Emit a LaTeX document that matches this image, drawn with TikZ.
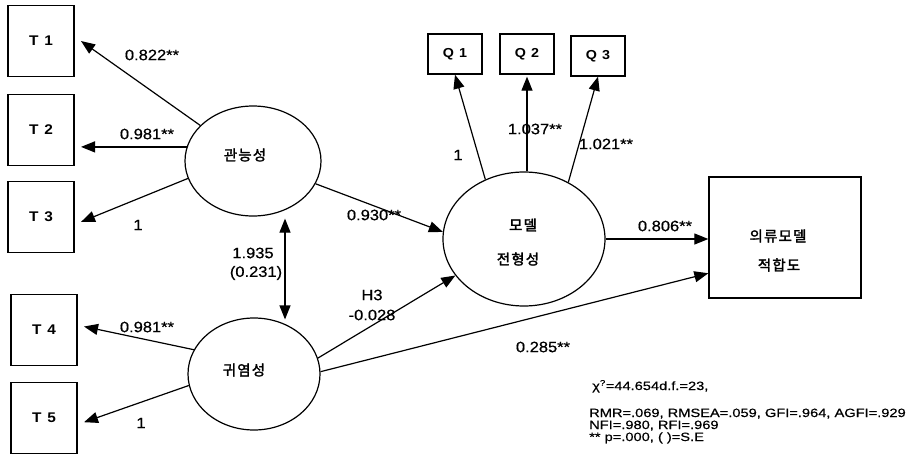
\documentclass[tikz,border=0pt]{standalone}
\usepackage{fontspec}
\setmainfont{Liberation Sans}[FakeStretch=1.1]
\newfontfamily\lblfont{Liberation Sans}[FakeStretch=1.1,FakeBold=0.6]
\newfontfamily\kr{Noto Sans CJK KR}[FakeBold=2,LetterSpace=8]
\newfontfamily\stat{Liberation Sans}[FakeStretch=1.22,FakeBold=0.5]
\usetikzlibrary{arrows.meta,calc,shapes.geometric}
\tikzset{
  obs/.style={draw, line width=1.3pt, minimum width=66pt, minimum height=71pt, inner sep=0pt, outer xsep=7pt, font=\bfseries\fontsize{14}{14}\selectfont},
  qbox/.style={draw, line width=1.3pt, minimum width=54pt, minimum height=40pt, inner sep=0pt, font=\bfseries\fontsize{13}{13}\selectfont},
  lat/.style={ellipse, draw, line width=1.2pt, inner sep=0pt},
  krtxt/.style={inner sep=0pt, font=\kr\fontsize{14.5}{14.5}\selectfont},
  lbl/.style={inner sep=0pt, font=\lblfont\fontsize{15}{15}\selectfont},
  stt/.style={inner sep=0pt, anchor=base west, font=\stat\fontsize{12}{12}\selectfont},
  arr/.style={-{Triangle[length=14pt,width=11pt]}, line width=1.2pt},
  darr/.style={{Triangle[length=14pt,width=11pt]}-{Triangle[length=14pt,width=11pt]}, line width=1.2pt}
}
\begin{document}
\begin{tikzpicture}[x=1pt,y=-1pt]
\useasboundingbox (0,0) rectangle (916,453);
% observed boxes
\node[obs] (T1) at (41,41) {T\hspace{6pt}1};
\node[obs] (T2) at (41,130) {T\hspace{6pt}2};
\node[obs] (T3) at (41,217) {T\hspace{6pt}3};
\node[obs] (T4) at (44,330) {T\hspace{6pt}4};
\node[obs] (T5) at (44,418) {T\hspace{6pt}5};
\node[qbox] (Q1) at (455,54) {Q\hspace{5pt}1};
\node[qbox] (Q2) at (527,54) {Q\hspace{5pt}2};
\node[qbox] (Q3) at (598,56) {Q\hspace{5pt}3};
\node[draw, line width=1.3pt, minimum width=152pt, minimum height=121pt, inner sep=0pt] (fit) at (785,237.5) {};
\node[krtxt] (fit1) at (778,236) {의류모델};
\node[krtxt] (fit2) at (779,265) {적합도};
% latent
\node[lat, minimum width=136pt, minimum height=110pt] (kw) at (253,161) {};
\node[krtxt] (kwt) at (245,155) {관능성};
\node[lat, minimum width=132pt, minimum height=112pt] (gy) at (254,374) {};
\node[krtxt] (gyt) at (244,370) {귀염성};
\node[lat, minimum width=162pt, minimum height=134pt] (md) at (524,239) {};
\node[krtxt] (mdt1) at (523,225) {모델};
\node[krtxt] (mdt2) at (518,259) {전형성};
% connectors
\draw[arr] (kw.146) -- (T1.east);
\draw[arr] (kw.168) -- (kw.168 -| T2.east);
\draw[arr] (kw.195) -- (T3.-7);
\draw[arr] (gy.158) -- (T4.5);
\draw[arr] (gy.190) -- (T5.-6);
\draw[darr] ([xshift=32pt,yshift=-2pt]kw.south) -- ([xshift=31pt,yshift=-2pt]gy.north);
\draw[arr] (kw.-20) -- (md.175);
\draw[arr] (gy.14) -- (md.208);
\draw[arr] (gy.2) -- (fit.205);
\draw[arr] (md.east) -- (md.east -| fit.west);
\draw[arr] (md.123) -- (Q1.south);
\draw[arr] (Q2.south |- md.north) -- ([yshift=-2pt]Q2.south);
\draw[arr] (md.52) -- (Q3.south);
% labels
\node[lbl] (l1) at (152,55) {0.822**};
\node[lbl] (l2) at (147,134) {0.981**};
\node[lbl] (l3) at (138,225) {1};
\node[lbl] (l4) at (253,253) {1.935};
\node[lbl] (l5) at (256,273) {(0.231)};
\node[lbl] (l6) at (147,327) {0.981**};
\node[lbl] (l7) at (141,423) {1};
\node[lbl] (l8) at (374,215) {0.930**};
\node[lbl] (l9) at (458,155) {1};
\node[lbl] (l10) at (535,129) {1.037**};
\node[lbl] (l11) at (606,144) {1.021**};
\node[lbl] (l12) at (665,226) {0.806**};
\node[lbl] (l13) at (372,295) {H3};
\node[lbl] (l14) at (372,315) {-0.028};
\node[lbl] (l15) at (543,347) {0.285**};
% statistics
\node[stt] (s1) at (592,390) {χ\textsuperscript{?}=44.654d.f.=23,};
\node[stt] (s2) at (589,417) {RMR=.069, RMSEA=.059, GFI=.964, AGFI=.929};
\node[stt] (s3) at (589,429) {NFI=.980, RFI=.969};
\node[stt] (s4) at (589,441) {** p=.000, ( )=S.E};
\end{tikzpicture}
\end{document}
